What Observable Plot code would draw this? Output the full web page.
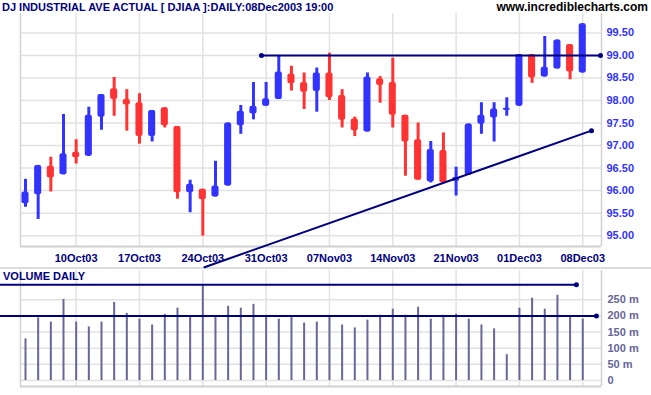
<!DOCTYPE html>
<html>
<head>
<meta charset="utf-8">
<script src="https://cdn.jsdelivr.net/npm/d3@7"></script>
<script src="https://cdn.jsdelivr.net/npm/@observablehq/plot@0.6"></script>
<style>
  html, body { margin: 0; padding: 0; background: #ffffff; }
  #wrap { position: relative; width: 651px; height: 395px; overflow: hidden; background: #ffffff;
          font-family: "Liberation Sans", Arial, sans-serif; font-weight: bold; }
  .lbl { position: absolute; white-space: nowrap; line-height: 14px; }
  #sep { height: 2px; background: #dcdcdc; width: 651px; }
  svg { display: block; }
</style>
</head>
<body>
<div id="wrap">
  <div class="lbl" style="left:2px;top:0;font-size:11px;color:#000080">DJ INDUSTRIAL AVE ACTUAL [ DJIAA ]:DAILY:08Dec2003 19:00</div>
  <div class="lbl" style="right:3px;top:0;font-size:12px;color:#000000">www.incrediblecharts.com</div>
  <div id="price"></div>
  <div id="sep"></div>
  <div id="vol"></div>
  <div class="lbl" style="left:3px;top:269px;font-size:11px;color:#000080">VOLUME DAILY</div>
</div>
<script>
const dates = ["06Oct03","07Oct03","08Oct03","09Oct03","10Oct03","13Oct03","14Oct03","15Oct03","16Oct03","17Oct03",
  "20Oct03","21Oct03","22Oct03","23Oct03","24Oct03","27Oct03","28Oct03","29Oct03","30Oct03","31Oct03",
  "03Nov03","04Nov03","05Nov03","06Nov03","07Nov03","10Nov03","11Nov03","12Nov03","13Nov03","14Nov03",
  "17Nov03","18Nov03","19Nov03","20Nov03","21Nov03","24Nov03","25Nov03","26Nov03","28Nov03",
  "01Dec03","02Dec03","03Dec03","04Dec03","05Dec03","08Dec03"];
const opens  = [95.71,95.91,96.54,96.35,96.85,96.76,97.63,98.26,98.02,97.95,97.20,97.84,97.42,95.95,96.03,95.86,96.10,97.44,97.70,97.87,98.02,98.59,98.40,98.20,98.61,98.11,97.59,97.30,98.48,98.40,97.67,97.13,96.19,96.89,96.20,96.34,97.47,97.61,97.78,97.87,99.02,98.52,98.70,99.24,98.61];
const highs  = [96.25,96.56,96.74,97.69,97.13,97.85,98.13,98.51,98.24,98.15,97.78,97.84,97.42,96.23,96.03,96.65,97.50,97.89,98.40,98.40,99.00,98.76,98.61,98.72,99.05,98.24,97.63,98.61,98.53,98.94,97.67,97.50,97.09,97.28,96.52,97.48,97.95,97.95,98.06,99.02,99.02,99.42,99.34,99.24,99.70];
const lows   = [95.63,95.36,95.97,96.35,96.59,96.76,97.34,97.65,97.32,97.03,97.08,97.39,95.81,95.51,94.99,95.86,96.10,97.25,97.57,97.87,98.02,98.21,97.80,97.74,98.00,97.39,97.20,97.30,97.94,97.39,96.32,96.23,96.17,96.17,95.88,96.34,97.25,97.08,97.65,97.87,98.38,98.52,98.70,98.46,98.61];
const closes = [95.97,96.56,96.28,96.82,96.73,97.67,98.13,98.02,97.90,97.20,97.78,97.44,95.95,96.14,95.80,96.10,97.50,97.76,97.87,98.04,98.63,98.37,98.18,98.61,98.06,97.56,97.33,98.52,98.33,97.67,97.08,96.23,96.91,96.17,96.29,97.48,97.67,97.81,97.83,99.02,98.50,98.74,99.34,98.63,99.70];
const volumes = [129,194,181,251,181,166,181,242,208,190,172,205,224,196,297,196,230,224,236,196,190,196,178,181,196,172,163,187,202,221,202,227,190,202,205,190,172,160,80,224,255,221,264,199,190];

const tickLabels = ["10Oct03","17Oct03","24Oct03","31Oct03","07Nov03","14Nov03","21Nov03","01Dec03","08Dec03"];
const priceTicks = [95.0,95.5,96.0,96.5,97.0,97.5,98.0,98.5,99.0,99.5];
const volumeTicks = [0,50,100,150,200,250];

// drawn lines (index positions)
const resistanceX = [18.63, 45.4];
const resistanceY = [99.00, 99.00];
const trendX = [14.13, 44.69];
const trendY = [94.30, 97.33];
const volTopX = [-1.97, 43.5];
const volTopY = [297, 297];
const volMidX = [-1.97, 45.08];
const volMidY = [200, 200];

const rows = dates.map((d, i) => ({i, date: d, open: opens[i], high: highs[i], low: lows[i], close: closes[i], volume: volumes[i]}));
const tickIdx = tickLabels.map(l => dates.indexOf(l));
const pts = (xs, ys) => xs.map((x, k) => ({x, y: ys[k]}));

const BLUE = "#3333ff", RED = "#ff3333", NAVY = "#000080", GRID = "#e2e2e2", EDGE = "#d0d0d0";
const xDomain = [-0.395, 45.48];
const up = d => d.close >= d.open;
const down = d => d.close < d.open;

const common = {
  width: 651,
  marginLeft: 20,
  marginRight: 50,
  style: {fontFamily: "'Liberation Sans', Arial, sans-serif", fontSize: "11px", fontWeight: "bold", background: "transparent", overflow: "visible"}
};

const pDom = [94.76, 99.93];
const price = Plot.plot({
  ...common,
  height: 267,
  marginTop: 13,
  marginBottom: 21,
  x: {domain: xDomain, label: null},
  y: {domain: pDom, label: null},
  marks: [
    Plot.gridY(priceTicks, {stroke: GRID, strokeOpacity: 1, strokeWidth: 1.5}),
    Plot.gridX(tickIdx, {stroke: GRID, strokeOpacity: 1, strokeWidth: 1.5}),
    Plot.ruleX([xDomain[0]], {y1: pDom[0], y2: pDom[1], stroke: EDGE, strokeWidth: 1.5}),
    Plot.ruleX([xDomain[1]], {y1: pDom[0], y2: pDom[1], stroke: EDGE, strokeWidth: 1.5}),
    Plot.ruleY([pDom[0]], {stroke: EDGE, strokeWidth: 2}),
    Plot.axisY(priceTicks, {anchor: "right", tickSize: 0, tickPadding: 5, tickFormat: d => d.toFixed(2), fill: BLUE, fontWeight: "bold"}),
    Plot.axisX(tickIdx, {anchor: "bottom", tickSize: 0, tickPadding: 8, tickFormat: i => dates[i], fill: NAVY, fontWeight: "bold"}),
    // wicks
    Plot.ruleX(rows, {filter: up, x: "i", y1: "low", y2: "high", stroke: BLUE, strokeWidth: 3}),
    Plot.ruleX(rows, {filter: down, x: "i", y1: "low", y2: "high", stroke: RED, strokeWidth: 3}),
    // bodies
    Plot.rect(rows, {filter: up, x1: d => d.i - 0.28, x2: d => d.i + 0.28, y1: "open", y2: "close", fill: BLUE, rx: 2}),
    Plot.rect(rows, {filter: down, x1: d => d.i - 0.28, x2: d => d.i + 0.28, y1: "open", y2: "close", fill: RED, rx: 2}),
    // resistance & trend lines
    Plot.line(pts(resistanceX, resistanceY), {x: "x", y: "y", stroke: NAVY, strokeWidth: 2}),
    Plot.dot(pts(resistanceX, resistanceY), {x: "x", y: "y", r: 2.5, fill: NAVY}),
    Plot.line(pts(trendX, trendY), {x: "x", y: "y", stroke: NAVY, strokeWidth: 2}),
    Plot.dot([pts(trendX, trendY)[1]], {x: "x", y: "y", r: 2.5, fill: NAVY})
  ]
});
document.getElementById("price").appendChild(price);

const vDom = [-18.6, 340.8];
const vol = Plot.plot({
  ...common,
  height: 126,
  marginTop: 1,
  marginBottom: 9,
  x: {domain: xDomain, label: null, axis: null},
  y: {domain: vDom, label: null},
  marks: [
    Plot.gridY(volumeTicks, {stroke: GRID, strokeOpacity: 1, strokeWidth: 1.5}),
    Plot.gridX(tickIdx, {stroke: GRID, strokeOpacity: 1, strokeWidth: 1.5}),
    Plot.ruleX([xDomain[0]], {y1: vDom[0], y2: vDom[1], stroke: EDGE, strokeWidth: 1.5}),
    Plot.ruleX([xDomain[1]], {y1: vDom[0], y2: vDom[1], stroke: EDGE, strokeWidth: 1.5}),
    Plot.ruleY([vDom[0]], {stroke: EDGE, strokeWidth: 2}),
    Plot.axisY(volumeTicks, {anchor: "right", tickSize: 0, tickPadding: 6, tickFormat: d => d === 0 ? "0" : d + " m", fill: "#666699", fontWeight: "bold"}),
    Plot.ruleX(rows, {x: "i", y1: 0, y2: "volume", stroke: "#666699", strokeWidth: 2}),
    Plot.line(pts(volTopX, volTopY), {x: "x", y: "y", stroke: NAVY, strokeWidth: 2}),
    Plot.dot([pts(volTopX, volTopY)[1]], {x: "x", y: "y", r: 2.5, fill: NAVY}),
    Plot.line(pts(volMidX, volMidY), {x: "x", y: "y", stroke: NAVY, strokeWidth: 2}),
    Plot.dot([pts(volMidX, volMidY)[1]], {x: "x", y: "y", r: 2.5, fill: NAVY})
  ]
});
document.getElementById("vol").appendChild(vol);
</script>
</body>
</html>
